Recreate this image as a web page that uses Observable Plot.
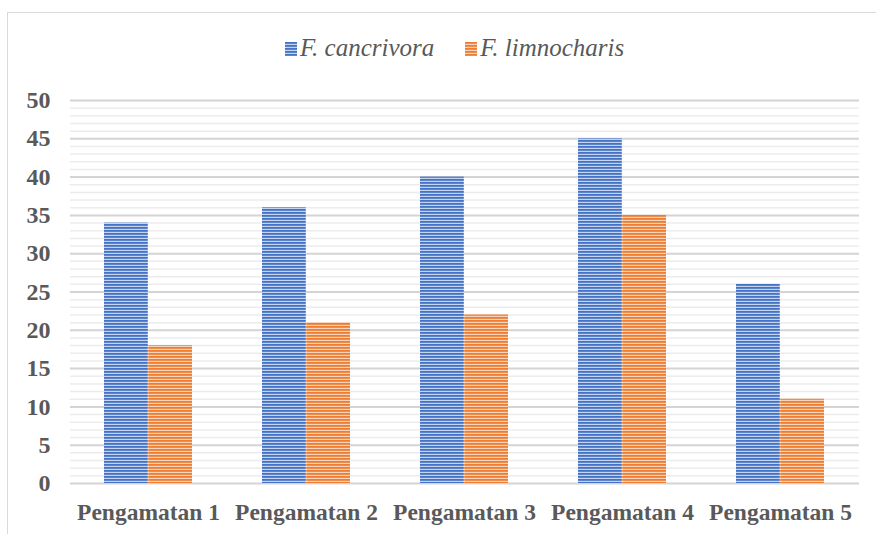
<!DOCTYPE html>
<html>
<head>
<meta charset="utf-8">
<script src="https://cdn.jsdelivr.net/npm/d3@7"></script>
<script src="https://cdn.jsdelivr.net/npm/@observablehq/plot@0.6"></script>
<style>
  html, body { margin: 0; padding: 0; background: #fff; }
  #wrap { position: relative; width: 876px; height: 534px; overflow: hidden; font-family: "Liberation Serif", "Times New Roman", "DejaVu Serif", serif; }
  #frame { position: absolute; left: 7px; top: 12px; width: 900px; height: 600px; border: 1.5px solid #d9d9d9; box-sizing: border-box; }
  #legend { position: absolute; left: 285px; top: 34px; font-family: "Liberation Serif", "Times New Roman", serif; font-style: italic; font-size: 25px; color: #595959; white-space: nowrap; }
  #legend span.item { margin-right: 31px; }
  #legend svg { vertical-align: 0px; margin-right: 3px; }
  #chart { position: absolute; left: 0; top: 80px; }
</style>
</head>
<body>
<div id="wrap">
  <div id="frame"></div>
  <div id="legend"></div>
  <div id="chart"></div>
</div>
<script>
const categories = ["Pengamatan 1", "Pengamatan 2", "Pengamatan 3", "Pengamatan 4", "Pengamatan 5"];
const seriesNames = ["F. cancrivora", "F. limnocharis"];
const cancrivora = [34, 36, 40, 45, 26];
const limnocharis = [18, 21, 22, 35, 11];
const yTicks = [0, 5, 10, 15, 20, 25, 30, 35, 40, 45, 50];
const colors = ["#4472C4", "#ED7D31"];
const lightColors = ["#c5d3ef", "#f8d3bb"];

const dataA = categories.map((c, i) => ({category: c, value: cancrivora[i]}));
const dataB = categories.map((c, i) => ({category: c, value: limnocharis[i]}));
const minorGrid = d3.range(0, 51).filter(v => v % 5 !== 0);

const chart = Plot.plot({
  width: 876,
  height: 454,
  marginTop: 20,
  marginBottom: 51,
  marginLeft: 70,
  marginRight: 17,
  style: {fontFamily: '"Liberation Serif", "Times New Roman", serif', fontWeight: "bold", color: "#595959", background: "transparent"},
  x: {domain: categories, paddingInner: 0.44, paddingOuter: 0.2155},
  y: {domain: [0, 50]},
  marks: [
    Plot.ruleY(minorGrid, {stroke: "#ececec", strokeWidth: 1.5}),
    Plot.ruleY(yTicks, {stroke: "#d4d4d4", strokeWidth: 2}),
    Plot.barY(dataA, {x: "category", y: "value", fill: "url(#hatch0)", insetRight: 44.2}),
    Plot.barY(dataB, {x: "category", y: "value", fill: "url(#hatch1)", insetLeft: 44.2}),
    Plot.axisY({ticks: yTicks, label: null, tickSize: 0, tickPadding: 20, fontSize: 24, fontWeight: "bold", fill: "#595959"}),
    Plot.axisX({label: null, tickSize: 0, tickPadding: 20, fontSize: 23.5, fontWeight: "bold", fill: "#595959"})
  ]
});

function addPatterns(svg, prefix) {
  const ns = "http://www.w3.org/2000/svg";
  const defs = document.createElementNS(ns, "defs");
  colors.forEach((col, i) => {
    const p = document.createElementNS(ns, "pattern");
    p.setAttribute("id", prefix + i);
    p.setAttribute("patternUnits", "userSpaceOnUse");
    p.setAttribute("width", "6");
    p.setAttribute("height", "3");
    const bg = document.createElementNS(ns, "rect");
    bg.setAttribute("width", "6"); bg.setAttribute("height", "3"); bg.setAttribute("fill", lightColors[i]);
    const fg = document.createElementNS(ns, "rect");
    fg.setAttribute("width", "6"); fg.setAttribute("height", "1.8"); fg.setAttribute("fill", col);
    p.appendChild(bg); p.appendChild(fg);
    defs.appendChild(p);
  });
  svg.insertBefore(defs, svg.firstChild);
}
addPatterns(chart, "hatch");
document.getElementById("chart").appendChild(chart);

// legend
const legend = document.getElementById("legend");
seriesNames.forEach((name, i) => {
  const item = document.createElement("span");
  item.className = "item";
  item.innerHTML = `<svg width="12" height="14"><defs><pattern id="lg${i}" patternUnits="userSpaceOnUse" width="12" height="3"><rect width="12" height="3" fill="${lightColors[i]}"/><rect width="12" height="1.8" fill="${colors[i]}"/></pattern></defs><rect width="12" height="14" fill="url(#lg${i})"/></svg>`;
  item.appendChild(document.createTextNode(name));
  legend.appendChild(item);
});
</script>
</body>
</html>
